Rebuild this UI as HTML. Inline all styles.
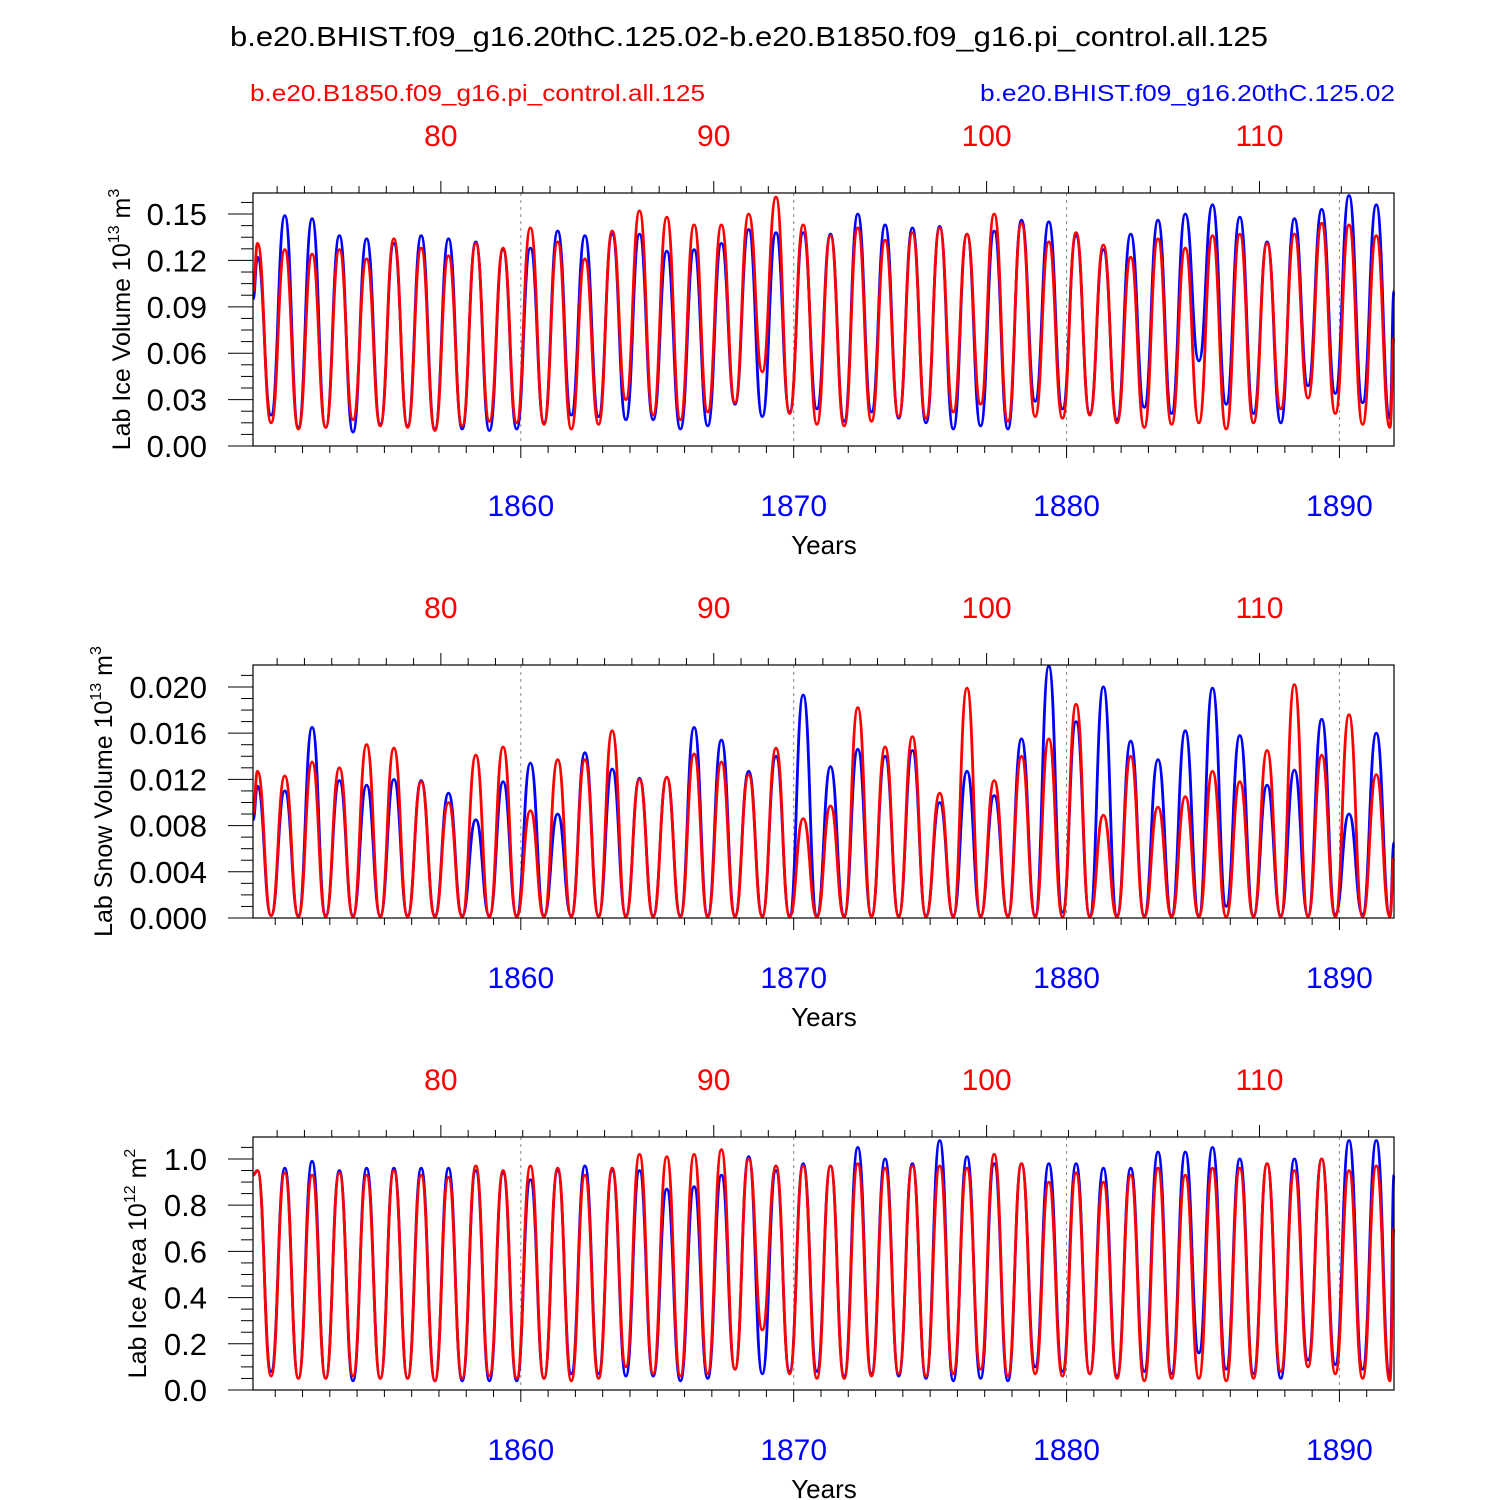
<!DOCTYPE html>
<html><head><meta charset="utf-8"><style>
body{margin:0;background:#fff}
svg{display:block;font-family:"Liberation Sans",sans-serif}
</style></head><body>
<svg id="c" width="1500" height="1500" viewBox="0 0 1500 1500">
<text x="230" y="46" font-size="28" textLength="1038" lengthAdjust="spacingAndGlyphs">b.e20.BHIST.f09_g16.20thC.125.02-b.e20.B1850.f09_g16.pi_control.all.125</text>
</svg>
<script>
const years=[1850,1851,1852,1853,1854,1855,1856,1857,1858,1859,1860,1861,1862,1863,1864,1865,1866,1867,1868,1869,1870,1871,1872,1873,1874,1875,1876,1877,1878,1879,1880,1881,1882,1883,1884,1885,1886,1887,1888,1889,1890,1891];
const volRedPeak=[0.131,0.127,0.124,0.127,0.121,0.134,0.128,0.123,0.131,0.128,0.141,0.132,0.121,0.139,0.152,0.148,0.143,0.143,0.150,0.161,0.143,0.136,0.141,0.133,0.138,0.141,0.137,0.150,0.144,0.132,0.138,0.130,0.122,0.134,0.128,0.136,0.137,0.131,0.137,0.144,0.143,0.136];
const volRedTrough=[0.015,0.011,0.012,0.017,0.013,0.012,0.010,0.013,0.016,0.015,0.014,0.011,0.014,0.030,0.020,0.017,0.022,0.028,0.048,0.021,0.014,0.013,0.016,0.019,0.018,0.022,0.027,0.016,0.019,0.018,0.020,0.015,0.012,0.014,0.015,0.011,0.015,0.024,0.031,0.021,0.014,0.012];
const volBluePeak=[0.122,0.149,0.147,0.136,0.134,0.131,0.136,0.134,0.132,0.127,0.128,0.139,0.136,0.137,0.137,0.126,0.127,0.131,0.140,0.138,0.138,0.137,0.150,0.143,0.141,0.142,0.137,0.139,0.146,0.145,0.136,0.127,0.137,0.146,0.150,0.156,0.148,0.132,0.147,0.153,0.162,0.156];
const volBlueTrough=[0.020,0.012,0.012,0.009,0.014,0.013,0.011,0.011,0.010,0.011,0.015,0.020,0.019,0.017,0.017,0.011,0.013,0.027,0.019,0.022,0.024,0.016,0.022,0.018,0.015,0.011,0.013,0.011,0.029,0.024,0.021,0.017,0.025,0.021,0.055,0.027,0.021,0.015,0.039,0.034,0.028,0.018];
const snowRedPeak=[0.0127,0.0123,0.0135,0.0130,0.0150,0.0147,0.0118,0.0100,0.0141,0.0148,0.0093,0.0137,0.0137,0.0162,0.0120,0.0122,0.0142,0.0135,0.0124,0.0147,0.0086,0.0097,0.0182,0.0148,0.0157,0.0108,0.0199,0.0119,0.0140,0.0155,0.0185,0.0089,0.0140,0.0096,0.0105,0.0127,0.0118,0.0145,0.0202,0.0141,0.0176,0.0124];
const snowRedTrough=[0.0002,0.0001,0.0001,0.0001,0.0001,0.0001,0.0001,0.0001,0.0001,0.0001,0.0001,0.0001,0.0001,0.0001,0.0001,0.0001,0.0001,0.0001,0.0001,0.0001,0.0001,0.0001,0.0001,0.0001,0.0001,0.0001,0.0001,0.0001,0.0001,0.0001,0.0001,0.0001,0.0001,0.0001,0.0001,0.0001,0.0001,0.0001,0.0001,0.0001,0.0001,0.0001];
const snowBluePeak=[0.0114,0.0110,0.0165,0.0119,0.0115,0.0120,0.0119,0.0108,0.0085,0.0118,0.0134,0.0090,0.0143,0.0129,0.0121,0.0122,0.0165,0.0154,0.0127,0.0140,0.0193,0.0131,0.0146,0.0140,0.0145,0.0100,0.0127,0.0106,0.0155,0.0218,0.0170,0.0200,0.0153,0.0137,0.0162,0.0199,0.0158,0.0115,0.0128,0.0172,0.0090,0.0160];
const snowBlueTrough=[0.0002,0.0002,0.0002,0.0002,0.0002,0.0002,0.0002,0.0002,0.0002,0.0002,0.0002,0.0002,0.0002,0.0002,0.0002,0.0002,0.0002,0.0002,0.0002,0.0002,0.0002,0.0002,0.0002,0.0002,0.0002,0.0002,0.0002,0.0002,0.0002,0.0005,0.0002,0.0002,0.0002,0.0002,0.0002,0.0010,0.0002,0.0002,0.0002,0.0003,0.0003,0.0002];
const areaRedPeak=[0.95,0.94,0.93,0.94,0.93,0.95,0.93,0.92,0.97,0.95,0.97,0.96,0.93,0.96,1.02,1.01,1.02,1.04,1.00,0.97,0.97,0.97,0.98,0.96,0.97,0.97,0.96,1.02,0.98,0.90,0.94,0.90,0.93,0.96,0.93,0.96,0.96,0.98,0.95,1.00,0.95,0.97];
const areaRedTrough=[0.06,0.05,0.05,0.06,0.05,0.05,0.04,0.05,0.06,0.05,0.05,0.04,0.05,0.10,0.07,0.06,0.07,0.09,0.26,0.07,0.05,0.05,0.06,0.07,0.06,0.07,0.09,0.06,0.07,0.06,0.07,0.05,0.04,0.05,0.05,0.04,0.05,0.08,0.10,0.07,0.05,0.04];
const areaBluePeak=[0.95,0.96,0.99,0.95,0.96,0.96,0.96,0.96,0.95,0.94,0.91,0.95,0.97,0.95,0.95,0.87,0.88,0.93,1.01,0.95,0.98,0.97,1.05,1.00,0.98,1.08,1.01,0.98,0.98,0.98,0.98,0.96,0.96,1.03,1.03,1.05,1.00,0.98,1.00,1.00,1.08,1.08];
const areaBlueTrough=[0.08,0.05,0.05,0.04,0.05,0.05,0.04,0.04,0.04,0.04,0.05,0.07,0.07,0.06,0.06,0.04,0.05,0.09,0.07,0.08,0.08,0.06,0.07,0.06,0.05,0.04,0.05,0.04,0.10,0.08,0.07,0.06,0.08,0.07,0.16,0.09,0.07,0.05,0.13,0.11,0.09,0.06];
const topTicks=[80,90,100,110];
const botTicks=[1860,1870,1880,1890];

const NS="http://www.w3.org/2000/svg",svg=document.getElementById('c');
function mk(t,a,p){const e=document.createElementNS(NS,t);for(const k in a)e.setAttribute(k,a[k]);(p||svg).appendChild(e);return e;}
const X0=253,X1=1394,T0=1850.185,T1=1892.0;
function xs(t){return X0+(t-T0)/(T1-T0)*(X1-X0);}
function xTop(m){return xs(m+1777.07);}

const sub1=mk('text',{x:250,y:101,'font-size':23,fill:'#f00',textLength:455,lengthAdjust:'spacingAndGlyphs'});sub1.textContent='b.e20.B1850.f09_g16.pi_control.all.125';


const sub2=mk('text',{x:980,y:101,'font-size':23,fill:'#00f',textLength:415,lengthAdjust:'spacingAndGlyphs'});sub2.textContent='b.e20.BHIST.f09_g16.20thC.125.02';



function panel(name,top,ymax,yticks,fmt,title,titleX,sup,unit,sRed,sRedT,sBlue,sBlueT,startRed,startBlue,endRed,endBlue){
  const bot=top+253;
  const g=mk('g',{});
  
  
  const ys=v=>bot-v/ymax*(bot-top);
  botTicks.forEach(v=>{const l=mk('line',{x1:xs(v),x2:xs(v),y1:top,y2:bot,stroke:'#888','stroke-width':1,'stroke-dasharray':'3,4'},g);
    
    });
  function series(pk,tr,s0,s1,col,nm){
    const pts=[[xs(T0),ys(s0)]];
    years.forEach((y,i)=>{pts.push([xs(y+0.35),ys(pk[i])]);pts.push([xs(y+0.85),ys(tr[i])]);});
    pts.push([xs(T1),ys(s1)]);
    let d='M'+pts[0][0].toFixed(1)+','+pts[0][1].toFixed(1);
    for(let i=1;i<pts.length;i++){
      const a=pts[i-1],b=pts[i],dx=(b[0]-a[0])*0.5;
      d+=` C${(a[0]+dx).toFixed(1)},${a[1].toFixed(1)} ${(b[0]-dx).toFixed(1)},${b[1].toFixed(1)} ${b[0].toFixed(1)},${b[1].toFixed(1)}`;
    }
    const p=mk('path',{d:d,fill:'none',stroke:col,'stroke-width':2.8,'stroke-linejoin':'round'},g);
    
    
  }
  series(sBlue,sBlueT,startBlue,endBlue,'#00f','blue');
  series(sRed,sRedT,startRed,endRed,'#f00','red');
  const fr=mk('rect',{x:X0,y:top,width:X1-X0,height:bot-top,fill:'none',stroke:'#000','stroke-width':1.2},g);
  
  
  for(let y=1851;y<=1891;y++){
    const maj=y%10==0;
    mk('line',{x1:xs(y),x2:xs(y),y1:bot,y2:bot+(maj?12:7),stroke:'#000','stroke-width':1},g);
  }
  for(let m=74;m<=118;m++){
    const x=xTop(m); if(x<X0||x>X1)continue;
    mk('line',{x1:x,x2:x,y1:top,y2:top-(m%10==0?12:7),stroke:'#000','stroke-width':1},g);
  }
  botTicks.forEach(v=>{const t=mk('text',{x:xs(v),y:bot+70,'text-anchor':'middle','font-size':30,fill:'#00f'},g);t.textContent=v;
    
    });
  topTicks.forEach(v=>{const t=mk('text',{x:xTop(v),y:top-47,'text-anchor':'middle','font-size':30,fill:'#f00'},g);t.textContent=v;
    
    });
  const xl=mk('text',{x:824,y:bot+108,'text-anchor':'middle','font-size':26},g);xl.textContent='Years';
  
  
  const step=yticks[1]-yticks[0];
  for(let v=0;v<=ymax+1e-9;v+=step/4){
    const y=ys(v);
    mk('line',{x1:X0,x2:X0-(Math.abs(v/step-Math.round(v/step))<1e-6?25:12),y1:y,y2:y,stroke:'#000','stroke-width':1},g);
  }
  yticks.forEach(v=>{const t=mk('text',{x:207,y:ys(v)+11,'text-anchor':'end','font-size':31},g);t.textContent=v.toFixed(fmt);
    
    });
  const yt=mk('text',{x:titleX,y:(top+bot)/2,'text-anchor':'middle','font-size':25,transform:`rotate(-90 ${titleX} ${(top+bot)/2})`},g);
  yt.innerHTML=title+' 10<tspan dy="-11" font-size="16">'+sup+'</tspan><tspan dy="11"> m</tspan><tspan dy="-11" font-size="16">'+unit+'</tspan>';
  
  
}
panel('ice-volume',193,0.1636,[0,0.03,0.06,0.09,0.12,0.15],2,'Lab Ice Volume',130,'13','3',volRedPeak,volRedTrough,volBluePeak,volBlueTrough,0.10,0.095,0.07,0.10);
panel('snow-volume',665,0.0219,[0,0.004,0.008,0.012,0.016,0.020],3,'Lab Snow Volume',112,'13','3',snowRedPeak,snowRedTrough,snowBluePeak,snowBlueTrough,0.009,0.0085,0.0052,0.0065);
panel('ice-area',1137,1.095,[0,0.2,0.4,0.6,0.8,1.0],1,'Lab Ice Area',146,'12','2',areaRedPeak,areaRedTrough,areaBluePeak,areaBlueTrough,0.93,0.93,0.7,0.93);
</script>
</body></html>
